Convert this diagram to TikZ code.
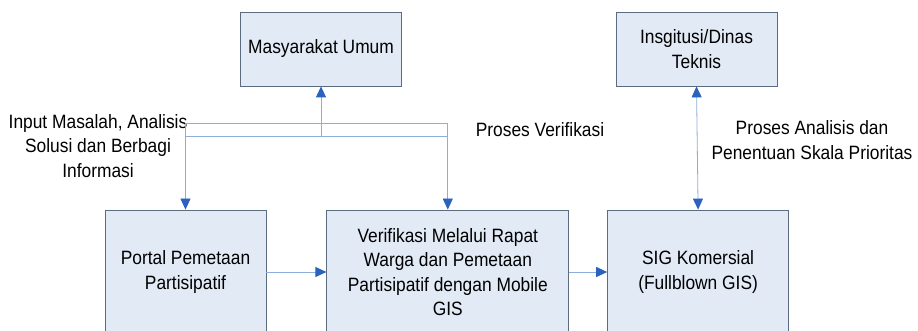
\documentclass[tikz,border=0pt]{standalone}
\usepackage{fontspec}
\setmainfont{Liberation Sans}[FakeStretch=0.9]
\usetikzlibrary{arrows.meta, positioning}
\definecolor{boxfill}{HTML}{E2EAF6}
\definecolor{boxline}{HTML}{5B6B80}
\definecolor{linkblue}{HTML}{8DADDA}
\definecolor{tipblue}{HTML}{2A62BE}
\tikzset{
    unitbox/.style={rectangle, draw=boxline, fill=boxfill, line width=0.8pt,
                    minimum width=161pt, minimum height=74pt, align=center,
                    inner sep=2pt, font=\fontsize{19.3}{24.5}\selectfont},
    stagebox/.style={rectangle, draw=boxline, fill=boxfill, line width=0.8pt,
                     minimum height=124pt, align=center,
                     inner sep=2pt, font=\fontsize{19.3}{24.5}\selectfont},
    link/.style={draw=linkblue, line width=0.8pt},
    flow/.style={link, -{Triangle[length=11pt, width=10pt, color=tipblue]}},
    biflow/.style={link, {Triangle[length=11pt, width=10pt, color=tipblue]}-{Triangle[length=11pt, width=10pt, color=tipblue]}},
    lbl/.style={align=center, inner sep=1pt, font=\fontsize{19.3}{24.5}\selectfont},
}
\begin{document}
\begin{tikzpicture}[x=1pt, y=-1pt]
    \useasboundingbox (0,0) rectangle (918,331);

    % ── TOP ROW ──
    \node[unitbox] (masy) at (321,49) {Masyarakat Umum};
    \node[unitbox] (inst) at (696.5,49) {Insgitusi/Dinas\\Teknis};

    % ── BOTTOM ROW ──
    \node[stagebox, minimum width=161pt] (portal) at (185.5,272) {Portal Pemetaan\\Partisipatif};
    \node[stagebox, minimum width=242pt, right=60pt of portal] (verif)
        {Verifikasi Melalui Rapat\\Warga dan Pemetaan\\Partisipatif dengan Mobile\\GIS};
    \node[stagebox, minimum width=181pt, right=38pt of verif] (sig) {SIG Komersial\\(Fullblown GIS)};

    % ── LABELS ──
    \node[lbl] (lblinput) at (98,146) {Input Masalah, Analisis\\Solusi dan Berbagi\\Informasi};
    \node[lbl] (lblverif) at (540,130) {Proses Verifikasi};
    \node[lbl] (lblanalisis) at (812,140) {Proses Analisis dan\\Penentuan Skala Prioritas};

    % ── CONNECTORS ──
    \coordinate (busL) at (portal.north |- 0,123);
    \coordinate (busR) at (verif.north |- 0,123);
    \coordinate (retL) at (portal.north |- 0,136);
    \coordinate (retR) at (verif.north |- 0,136);
    \coordinate (retM) at (masy.south |- 0,136);

    \draw[link] (busL) -- (busR);
    \draw[flow] (busL) -- (portal.north);
    \draw[flow] (busR) -- (verif.north);
    \draw[link] (retL) -- (retR);
    \draw[flow] (retM) -- (masy.south);

    \draw[flow] (portal.east) -- (verif.west);
    \draw[flow] (verif.east) -- (sig.west);
    \draw[biflow] (sig.north) -- (inst.south);

\end{tikzpicture}
\end{document}
